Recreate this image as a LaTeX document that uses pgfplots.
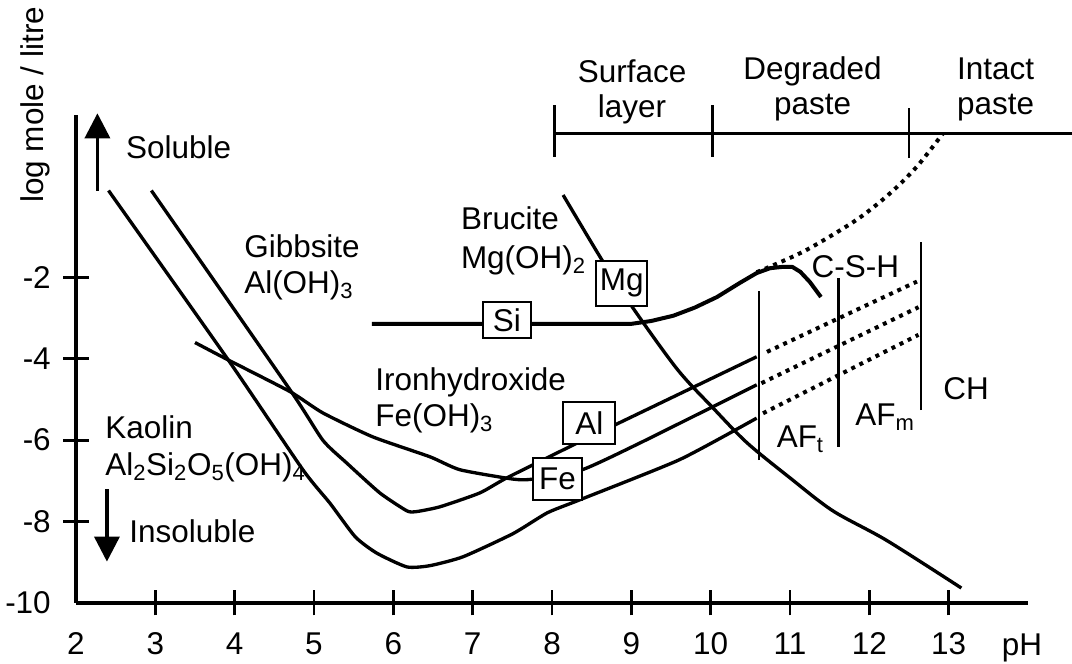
\documentclass[border=0pt]{standalone}
\usepackage{fontspec}
\setmainfont{Liberation Sans}
\usepackage{pgfplots}
\pgfplotsset{compat=1.18}
\usetikzlibrary{arrows.meta}

% solubility curves (pH, log mole/litre)
\pgfplotstableread{
x y
2.41 0.14
3.92 -4.03
4.86 -6.73
5.20 -7.55
5.52 -8.38
5.79 -8.78
6.17 -9.12
6.46 -9.09
6.88 -8.87
7.51 -8.30
7.94 -7.79
8.35 -7.47
9.61 -6.48
10.58 -5.46
}\kaolin
\pgfplotstableread{
x y
2.95 0.14
4.70 -4.77
5.11 -6.00
5.41 -6.56
5.83 -7.30
6.17 -7.74
6.29 -7.76
6.59 -7.64
7.09 -7.30
7.43 -6.93
8.32 -6.07
8.79 -5.63
10.58 -3.95
}\gibbsite
\pgfplotstableread{
x y
3.50 -3.60
3.92 -4.03
4.70 -4.81
5.11 -5.33
5.74 -5.92
6.46 -6.41
6.84 -6.73
7.51 -6.96
7.76 -6.96
8.38 -6.73
9.11 -6.07
10.58 -4.64
}\iron
\pgfplotstableread{
x y
5.73 -3.14
9.00 -3.14
9.25 -3.07
9.53 -2.94
9.80 -2.74
10.08 -2.48
10.37 -2.13
10.58 -1.89
10.75 -1.77
10.90 -1.74
11.03 -1.74
11.13 -1.86
11.25 -2.11
11.39 -2.48
}\silica
\pgfplotstableread{
x y
10.58 -1.87
10.75 -1.73
11.21 -1.32
11.84 -0.58
12.26 0.07
12.60 0.73
12.93 1.55
}\portlandite
\pgfplotstableread{
x y
8.14 0.03
8.63 -1.57
9.01 -2.72
9.58 -4.26
10.03 -5.21
10.46 -6.07
11.00 -6.93
11.54 -7.74
12.22 -8.47
13.16 -9.64
}\brucite

\newcommand\txt{\fontsize{23.6}{28}\selectfont}

\begin{document}
\txt
\begin{tikzpicture}[
  box/.style={draw, fill=white, line width=1.5pt, inner sep=0pt},
  lab/.style={inner sep=0pt, anchor=base west},
  dots/.style={line width=3pt, dash pattern=on 3pt off 3.75pt},
]
\begin{axis}[
  scale only axis, width=714pt, height=365.8pt,
  xmin=2, xmax=14, ymin=-10, ymax=2,
  axis x line=bottom, axis y line=left,
  axis line style={line width=3pt, -},
  clip=false,
  cycle list={{black, solid}},
  xtick={3,4,5,6,7,8,9,10,11,12,13},
  xticklabels={3,4,5,6,7,8,9,10,11,12,13},
  ytick={-8,-6,-4,-2},
  yticklabels={-8,-6,-4,-2},
  extra x ticks={2}, extra x tick labels={2},
  extra y ticks={-10}, extra y tick labels={-10},
  extra tick style={major tick style={draw=none}},
  tick align=center, major tick length=19pt,
  tick style={line width=2.2pt, black},
  xticklabel style={anchor=base, inner sep=0pt, yshift=-29.5pt},
  yticklabel style={anchor=east, inner sep=0pt, xshift=-9.25pt},
  every axis plot/.append style={line width=2.5pt, black, no markers},
]
\addplot[smooth, tension=0.35] table {\kaolin};
\addplot[smooth, tension=0.35] table {\gibbsite};
\addplot[smooth, tension=0.35] table {\iron};
\addplot[line width=3pt, line join=round] table {\silica};
\addplot[dots, smooth, tension=0.5] table {\portlandite};
\addplot[smooth, tension=0.5] table {\brucite};

% extrapolated branches beyond pH 10.6
\addplot[dots] coordinates {(10.71,-3.83) (12.60,-2.10)};
\addplot[dots] coordinates {(10.64,-4.60) (12.62,-2.73)};
\addplot[dots] coordinates {(10.66,-5.34) (12.62,-3.41)};

% phase boundaries
\addplot[line width=2pt] coordinates {(10.61,-6.49) (10.61,-2.32)};
\addplot[line width=2pt] coordinates {(11.61,-6.16) (11.61,-2.01)};
\addplot[line width=2pt] coordinates {(12.65,-5.26) (12.65,-1.12)};

% zone bar
\addplot[line width=2pt] coordinates {(8.03,1.55) (14.56,1.55)};
\addplot[line width=2pt] coordinates {(8.03,0.97) (8.03,2.25)};
\addplot[line width=2pt] coordinates {(10.02,0.97) (10.02,2.25)};
\addplot[line width=2pt] coordinates {(12.50,0.94) (12.50,2.17)};

% soluble / insoluble arrows
\addplot[line width=2.6pt, -{Triangle[width=18.75pt,length=18.75pt]}] coordinates {(2.27,0.14) (2.27,2.04)};
\addplot[line width=2.6pt, -{Triangle[width=18.75pt,length=18.75pt]}] coordinates {(2.39,-7.21) (2.39,-8.99)};

\node[box, minimum width=36pt, minimum height=27pt] at (axis cs:7.43,-3.04) {Si};
\node[box, minimum width=38pt, minimum height=34pt] at (axis cs:8.88,-2.14) {Mg};
\node[box, minimum width=39pt, minimum height=31pt] at (axis cs:8.47,-5.58) {Al};
\node[box, minimum width=37pt, minimum height=31pt] at (axis cs:8.07,-6.96) {Fe};

\node[lab] at (axis cs:2.63,0.94) {Soluble};
\node[lab] at (axis cs:2.67,-8.51) {Insoluble};
\node[lab] at (axis cs:4.118,-1.50) {Gibbsite};
\node[lab] at (axis cs:4.118,-2.39) {Al(OH)\textsubscript{3}};
\node[lab] at (axis cs:6.85,-0.83) {Brucite};
\node[lab] at (axis cs:6.85,-1.77) {Mg(OH)\textsubscript{2}};
\node[lab] at (axis cs:5.77,-4.77) {Ironhydroxide};
\node[lab] at (axis cs:5.77,-5.67) {Fe(OH)\textsubscript{3}};
\node[lab] at (axis cs:2.366,-5.955) {Kaolin};
\node[lab] at (axis cs:2.366,-6.86) {Al\textsubscript{2}Si\textsubscript{2}O\textsubscript{5}(OH)\textsubscript{4}};
\node[lab] at (axis cs:11.27,-1.99) {C-S-H};
\node[lab] at (axis cs:10.83,-6.18) {AF\textsubscript{t}};
\node[lab] at (axis cs:11.82,-5.65) {AF\textsubscript{m}};
\node[lab] at (axis cs:12.93,-4.99) {CH};

\node[inner sep=0pt, anchor=base] at (axis cs:9.009,2.81) {Surface};
\node[inner sep=0pt, anchor=base] at (axis cs:9.009,1.94) {layer};
\node[inner sep=0pt, anchor=base] at (axis cs:11.284,2.86) {Degraded};
\node[inner sep=0pt, anchor=base] at (axis cs:11.284,2.00) {paste};
\node[inner sep=0pt, anchor=base] at (axis cs:13.591,2.88) {Intact};
\node[inner sep=0pt, anchor=base] at (axis cs:13.591,2.00) {paste};

\node[inner sep=0pt, anchor=base] at (axis cs:13.925,-11.29) {pH};
\node[inner sep=0pt, rotate=90] at (axis cs:1.483,2.247) {log mole / litre};
\end{axis}
\pgfresetboundingbox
\path[use as bounding box] ([shift={(-57pt,-46pt)}]current axis.south west) rectangle ++(804pt,498pt);
\end{tikzpicture}
\end{document}
